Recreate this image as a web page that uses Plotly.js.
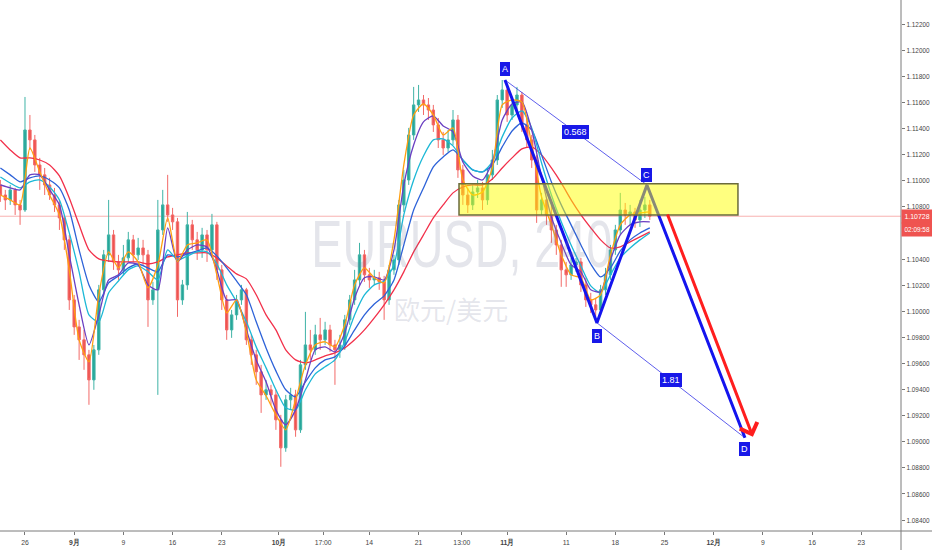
<!DOCTYPE html>
<html>
<head>
<meta charset="utf-8">
<script src="https://cdn.plot.ly/plotly-3.0.1.min.js"></script>
<style>
html,body{margin:0;padding:0;background:#fff;}
#chart{width:932px;height:550px;}
</style>
</head>
<body>
<div id="chart"></div>
<script>
// ---- candle data (12h bars, EURUSD) ----
const barOpen = [1.10968,1.10891,1.10853,1.10930,1.10815,1.10776,1.11389,1.11313,1.11121,1.11045,
1.10968,1.10891,1.10815,1.10715,1.10547,1.10087,1.09880,1.09781,1.09666,1.09474,
1.09704,1.10164,1.10432,1.10585,1.10378,1.10317,1.10409,1.10547,1.10432,1.10485,
1.10432,1.10087,1.10164,1.10623,1.10815,1.10738,1.10685,1.10087,1.10202,1.10662,
1.10547,1.10470,1.10585,1.10470,1.10662,1.10317,1.10087,1.09857,1.09972,1.10087,
1.10164,1.09781,1.09666,1.09536,1.09359,1.09398,1.09359,1.09168,1.08953,1.09321,
1.09359,1.09091,1.09589,1.09742,1.09704,1.09819,1.09781,1.09857,1.09742,1.09704,
1.09742,1.09934,1.10087,1.10240,1.10432,1.10279,1.10240,1.10256,1.10225,1.10087,
1.10317,1.10393,1.10815,1.11006,1.11351,1.11581,1.11619,1.11581,1.11542,1.11428,
1.11313,1.11251,1.11313,1.11466,1.11083,1.10891,1.10815,1.10914,1.10945,1.10853,
1.11045,1.11159,1.11619,1.11696,1.11504,1.11581,1.11657,1.11428,1.11313,1.11159,
1.10776,1.10853,1.10738,1.10623,1.10508,1.10317,1.10279,1.10355,1.10378,1.10202,
1.10087,1.10049,1.10010,1.10164,1.10279,1.10470,1.10623,1.10776,1.10738,1.10761,
1.10700,1.10776,1.10815];
const barHigh = [1.11006,1.10930,1.10968,1.10945,1.10853,1.11642,1.11504,1.11351,1.11175,1.11098,
1.11022,1.10945,1.10853,1.10738,1.10585,1.10125,1.09934,1.09857,1.09704,1.09742,
1.10202,1.10470,1.10853,1.10623,1.10432,1.10508,1.10608,1.10585,1.10562,1.10547,
1.10470,1.10225,1.10853,1.10930,1.11045,1.10792,1.10715,1.10240,1.10761,1.10700,
1.10608,1.10639,1.10623,1.10746,1.10685,1.10355,1.10125,1.10010,1.10125,1.10202,
1.10179,1.09819,1.09704,1.09589,1.09474,1.09436,1.09398,1.09206,1.09359,1.09413,
1.09398,1.09627,1.09995,1.09857,1.09896,1.09949,1.09919,1.09896,1.09781,1.09819,
1.09972,1.10125,1.10317,1.10524,1.10470,1.10332,1.10317,1.10302,1.10271,1.10355,
1.10432,1.10853,1.11083,1.11405,1.11719,1.11734,1.11657,1.11634,1.11581,1.11481,
1.11374,1.11389,1.11542,1.11504,1.11121,1.10945,1.10968,1.11006,1.10991,1.11098,
1.11236,1.11657,1.11772,1.11734,1.11634,1.11719,1.11680,1.11481,1.11351,1.11198,
1.10907,1.10868,1.10815,1.10662,1.10547,1.10378,1.10409,1.10409,1.10409,1.10256,
1.10141,1.10102,1.10202,1.10332,1.10508,1.10662,1.10907,1.10830,1.10815,1.10792,
1.10853,1.10876,1.10853];
const barLow = [1.10838,1.10776,1.10815,1.10738,1.10662,1.10761,1.11236,1.11068,1.10930,1.10891,
1.10853,1.10761,1.10623,1.10470,1.10010,1.09819,1.09627,1.09551,1.09283,1.09398,
1.09666,1.10125,1.10378,1.10317,1.10240,1.10279,1.10378,1.10378,1.10393,1.10355,
1.09880,1.10049,1.09359,1.10585,1.10685,1.10623,1.09957,1.10049,1.10164,1.10470,
1.10393,1.10409,1.10378,1.10432,1.10240,1.10010,1.09781,1.09796,1.09934,1.10049,
1.09742,1.09589,1.09436,1.09221,1.09321,1.09283,1.09091,1.08808,1.08923,1.09244,
1.09038,1.09068,1.09551,1.09627,1.09666,1.09704,1.09742,1.09689,1.09436,1.09643,
1.09704,1.09896,1.10049,1.10202,1.10225,1.10179,1.10202,1.10164,1.09934,1.10049,
1.10279,1.10355,1.10761,1.10968,1.11313,1.11527,1.11504,1.11466,1.11374,1.11251,
1.11198,1.11221,1.11274,1.11022,1.10815,1.10753,1.10776,1.10868,1.10776,1.10815,
1.11006,1.11121,1.11558,1.11451,1.11466,1.11542,1.11374,1.11251,1.11098,1.10677,
1.10738,1.10662,1.10524,1.10432,1.10187,1.10187,1.10240,1.10302,1.10148,1.10033,
1.09987,1.09957,1.09972,1.10125,1.10240,1.10432,1.10585,1.10662,1.10662,1.10639,
1.10646,1.10715,1.10700];
const barClose = [1.10891,1.10853,1.10930,1.10815,1.10776,1.11389,1.11313,1.11121,1.11045,1.10968,
1.10891,1.10815,1.10715,1.10547,1.10087,1.09880,1.09781,1.09666,1.09474,1.09704,
1.10164,1.10432,1.10585,1.10378,1.10317,1.10409,1.10547,1.10432,1.10485,1.10432,
1.10087,1.10164,1.10623,1.10815,1.10738,1.10685,1.10087,1.10202,1.10662,1.10547,
1.10470,1.10585,1.10470,1.10662,1.10317,1.10087,1.09857,1.09972,1.10087,1.10164,
1.09781,1.09666,1.09536,1.09359,1.09398,1.09359,1.09168,1.08953,1.09321,1.09359,
1.09091,1.09589,1.09742,1.09704,1.09819,1.09781,1.09857,1.09742,1.09704,1.09742,
1.09934,1.10087,1.10240,1.10432,1.10279,1.10240,1.10256,1.10225,1.10087,1.10317,
1.10393,1.10815,1.11006,1.11351,1.11581,1.11619,1.11581,1.11542,1.11428,1.11313,
1.11251,1.11313,1.11466,1.11083,1.10891,1.10815,1.10914,1.10945,1.10853,1.11045,
1.11159,1.11619,1.11696,1.11504,1.11581,1.11657,1.11428,1.11313,1.11159,1.10776,
1.10853,1.10738,1.10623,1.10508,1.10317,1.10279,1.10355,1.10378,1.10202,1.10087,
1.10049,1.10010,1.10164,1.10279,1.10470,1.10623,1.10776,1.10738,1.10761,1.10700,
1.10776,1.10815,1.10728];

// ---- moving averages (one value per trading day) ----
const maOrange = [1.10891,1.10853,1.10815,1.11251,1.11068,1.10891,1.10738,1.10317,1.09781,1.09612,
1.10126,1.10455,1.10332,1.10455,1.10378,1.10179,1.10355,1.10715,1.10378,1.10508,
1.10524,1.10547,1.10279,1.09987,1.10087,1.09842,1.09474,1.09352,1.09206,1.09091,
1.09321,1.09589,1.09742,1.09766,1.09727,1.09896,1.10202,1.10332,1.10256,1.10217,
1.10547,1.11121,1.11504,1.11588,1.11504,1.11351,1.11405,1.11006,1.10891,1.10914,
1.11098,1.11581,1.11619,1.11604,1.11274,1.10876,1.10662,1.10432,1.10279,1.10256,
1.10087,1.10126,1.10432,1.10662,1.10738,1.10753,1.10761];
const maPurple = [1.10968,1.10945,1.10930,1.11045,1.11045,1.10930,1.10815,1.10432,1.10049,1.09742,
1.09972,1.10240,1.10279,1.10370,1.10355,1.10202,1.10164,1.10639,1.10378,1.10470,
1.10508,1.10493,1.10317,1.10087,1.10087,1.09857,1.09627,1.09459,1.09244,1.09130,
1.09244,1.09474,1.09704,1.09727,1.09689,1.09834,1.10102,1.10256,1.10263,1.10240,
1.10470,1.10968,1.11274,1.11451,1.11497,1.11420,1.11374,1.11144,1.11037,1.11006,
1.11144,1.11466,1.11588,1.11604,1.11389,1.11029,1.10723,1.10524,1.10355,1.10302,
1.10164,1.10148,1.10393,1.10585,1.10662,1.10685,1.10685];
const maCyan = [1.11029,1.10983,1.10945,1.10991,1.11006,1.10952,1.10853,1.10600,1.10302,1.09972,
1.09919,1.10141,1.10232,1.10317,1.10347,1.10302,1.10240,1.10470,1.10393,1.10424,
1.10455,1.10455,1.10362,1.10202,1.10072,1.09919,1.09727,1.09566,1.09398,1.09260,
1.09244,1.09398,1.09520,1.09574,1.09627,1.09766,1.09972,1.10126,1.10202,1.10232,
1.10355,1.10738,1.11006,1.11190,1.11313,1.11320,1.11267,1.11159,1.11083,1.11068,
1.11144,1.11336,1.11481,1.11535,1.11405,1.11136,1.10891,1.10685,1.10508,1.10347,
1.10194,1.10141,1.10279,1.10409,1.10485,1.10547,1.10600];
const maBlue = [1.11098,1.11045,1.10991,1.11022,1.11037,1.11006,1.10945,1.10776,1.10470,1.10202,
1.10072,1.10217,1.10271,1.10332,1.10362,1.10332,1.10302,1.10432,1.10416,1.10439,
1.10462,1.10485,1.10424,1.10332,1.10232,1.10126,1.09919,1.09719,1.09543,1.09398,
1.09344,1.09459,1.09566,1.09627,1.09650,1.09735,1.09857,1.09972,1.10056,1.10118,
1.10240,1.10508,1.10776,1.10945,1.11106,1.11182,1.11236,1.11159,1.11083,1.11068,
1.11121,1.11259,1.11381,1.11443,1.11389,1.11198,1.10991,1.10815,1.10662,1.10508,
1.10362,1.10263,1.10332,1.10462,1.10547,1.10600,1.10639];
const maRed = [1.11313,1.11236,1.11175,1.11175,1.11159,1.11121,1.11037,1.10868,1.10662,1.10470,
1.10401,1.10385,1.10378,1.10378,1.10378,1.10362,1.10378,1.10416,1.10432,1.10447,
1.10447,1.10447,1.10409,1.10347,1.10286,1.10248,1.10126,1.09972,1.09857,1.09704,
1.09627,1.09604,1.09627,1.09658,1.09681,1.09719,1.09781,1.09857,1.09949,1.10049,
1.10164,1.10302,1.10455,1.10585,1.10715,1.10815,1.10907,1.10952,1.10968,1.10968,
1.11014,1.11098,1.11175,1.11244,1.11259,1.11198,1.11098,1.10983,1.10853,1.10738,
1.10639,1.10547,1.10485,1.10493,1.10532,1.10570,1.10608];

// ---- time axis ticks (trading-day index, 0 = Aug 26) ----
const tickDays = [0,5,10,15,20,25.8,30.3,35,40,44.4,49,55,60,65,70,75,80,85];
const tickLabels = ['26','<b>9月</b>','9','16','23','<b>10月</b>','17:00','14','21','13:00','<b>11月</b>','11','18','25','<b>12月</b>','9','16','23'];

// ---- drawings ----
const patternX = [48.78, 58.13, 63.21, 73.17];
const patternY = [1.11772, 1.09911, 1.10968, 1.09030];
const patternLabels = ['A','B','C','D'];
const ratioLabels = ['0.568','1.81'];
const zoneX = [44.11, 72.46];
const zoneY = [1.10738, 1.10976];
const arrowX = [65.24, 73.98];
const arrowY = [1.10753, 1.09038];
const lastPrice = 1.10728;
const lastPriceText = '1.10728';
const countdownText = '02:09:58';
const watermark = 'EURUSD, 240';
const watermarkSub = '欧元/美元';

// ---- build ----
const barX = barOpen.map((_, i) => -2.5 + 0.5 * i);
const maX = maRed.map((_, k) => -2.5 + k);
const sans = '"Liberation Sans", Arial, sans-serif';

const traces = [];
traces.push({
  type: 'candlestick', x: barX, open: barOpen, high: barHigh, low: barLow, close: barClose,
  increasing: {line: {color: '#3fb3a6', width: 1}, fillcolor: '#26a69a'},
  decreasing: {line: {color: '#f26a68', width: 1}, fillcolor: '#ef5350'},
  whiskerwidth: 0, hoverinfo: 'skip'
});
const maDefs = [
  [maRed, '#f2304a'], [maBlue, '#2d62d8'], [maCyan, '#1cb8d6'], [maPurple, '#6a3fc2'], [maOrange, '#ff9f10']
];
maDefs.forEach(([vals, col]) => traces.push({
  type: 'scatter', mode: 'lines', x: maX, y: vals, line: {color: col, width: 1.3, shape: 'spline', smoothing: 0.6}, hoverinfo: 'skip'
}));
traces.push({type: 'scatter', mode: 'lines', x: [patternX[0], patternX[2]], y: [patternY[0], patternY[2]],
  line: {color: 'rgba(40,40,230,0.75)', width: 1}, hoverinfo: 'skip'});
traces.push({type: 'scatter', mode: 'lines', x: [patternX[1], patternX[3]], y: [patternY[1], patternY[3]],
  line: {color: 'rgba(40,40,230,0.75)', width: 1}, hoverinfo: 'skip'});
traces.push({type: 'scatter', mode: 'lines', x: patternX, y: patternY,
  line: {color: '#1414ee', width: 3}, hoverinfo: 'skip'});

const annotations = [];
annotations.push({xref: 'paper', yref: 'paper', x: 462/901, y: 1 - 244/531, text: watermark, showarrow: false,
  font: {family: sans, size: 66, color: 'rgba(120,125,155,0.2)'}, xanchor: 'center', yanchor: 'middle'});
annotations.push({xref: 'paper', yref: 'paper', x: 451/901, y: 1 - 308/531, text: watermarkSub, showarrow: false,
  font: {family: '"Noto Sans CJK SC", sans-serif', size: 26, color: 'rgba(120,125,155,0.2)'}, xanchor: 'center', yanchor: 'middle'});
const shifts = [11, -13, 10, -11];
patternLabels.forEach((t, i) => annotations.push({
  x: patternX[i], y: patternY[i], text: t, showarrow: false, yshift: shifts[i],
  font: {family: 'Arial, sans-serif', size: 9, color: '#fff'}, bgcolor: '#1818e8', bordercolor: '#1818e8', borderpad: 1
}));
[[0, 2], [1, 3]].forEach(([a, b], j) => annotations.push({
  x: (patternX[a] + patternX[b]) / 2, y: (patternY[a] + patternY[b]) / 2, text: ratioLabels[j], showarrow: false,
  font: {family: 'Arial, sans-serif', size: 9, color: '#fff'}, bgcolor: '#1818e8', bordercolor: '#1818e8', borderpad: 1
}));
annotations.push({x: arrowX[1], y: arrowY[1], ax: arrowX[0], ay: arrowY[0], axref: 'x', ayref: 'y',
  showarrow: true, arrowhead: 4, arrowsize: 1.2, arrowwidth: 3, arrowcolor: '#ff1e1e', text: '', standoff: 0});
annotations.push({xref: 'paper', x: 1, xanchor: 'left', y: lastPrice, text: lastPriceText, showarrow: false,
  font: {family: sans, size: 7.5, color: '#fff'}, bgcolor: '#ef5350', width: 28, height: 11, borderpad: 1});
annotations.push({xref: 'paper', x: 1, xanchor: 'left', y: lastPrice, yshift: -13, text: countdownText, showarrow: false,
  font: {family: sans, size: 7.5, color: '#fff'}, bgcolor: '#ef5350', width: 28, height: 11, borderpad: 1});

const shapes = [
  {type: 'line', xref: 'paper', yref: 'y', x0: 0, x1: 1, y0: lastPrice, y1: lastPrice,
   line: {color: 'rgba(239,83,80,0.45)', width: 1}, layer: 'below'},
  {type: 'rect', xref: 'x', yref: 'y', x0: zoneX[0], x1: zoneX[1], y0: zoneY[0], y1: zoneY[1],
   fillcolor: 'rgba(255,255,0,0.5)', line: {color: '#6b6b3c', width: 1.5}, layer: 'above'},
  {type: 'line', xref: 'paper', yref: 'paper', x0: 0, x1: 932/901, y0: 0, y1: 0, line: {color: '#7a7a7a', width: 1}},
  {type: 'line', xref: 'paper', yref: 'paper', x0: 1, x1: 1, y0: -19/531, y1: 1, line: {color: '#7a7a7a', width: 1}}
];

const layout = {
  width: 932, height: 550, margin: {l: 0, r: 31, t: 0, b: 19, pad: 0},
  paper_bgcolor: '#ffffff', plot_bgcolor: '#ffffff', showlegend: false,
  xaxis: {range: [-2.54, 89.03], showgrid: false, zeroline: false, tickmode: 'array', tickvals: tickDays, ticktext: tickLabels,
    ticks: 'outside', ticklen: 3, tickcolor: '#777', tickfont: {family: sans, size: 8, color: '#444'},
    rangeslider: {visible: false}, fixedrange: true, showline: false},
  yaxis: {range: [1.08316, 1.12385], side: 'right', tick0: 1.084, dtick: 0.002, tickformat: '.5f',
    ticks: 'outside', ticklen: 3, tickcolor: '#777', showgrid: false, zeroline: false, showline: false,
    tickfont: {family: sans, size: 7.5, color: '#444'}, fixedrange: true},
  shapes: shapes, annotations: annotations
};

function squeeze(el, len) {
  el.setAttribute('textLength', len);
  el.setAttribute('lengthAdjust', 'spacingAndGlyphs');
}
Plotly.newPlot('chart', traces, layout, {staticPlot: true, displayModeBar: false}).then(gd => {
  gd.querySelectorAll('.ytick text').forEach(t => squeeze(t, 23));
  gd.querySelectorAll('.xtick text').forEach(t => {
    const w = t.getComputedTextLength();
    squeeze(t, w * 0.85);
  });
  gd.querySelectorAll('.annotation-text').forEach(t => {
    const s = t.textContent;
    if (s === watermark) squeeze(t, 301);
    else if (s === lastPriceText || s === countdownText) squeeze(t, 25);
  });
});
</script>
</body>
</html>
